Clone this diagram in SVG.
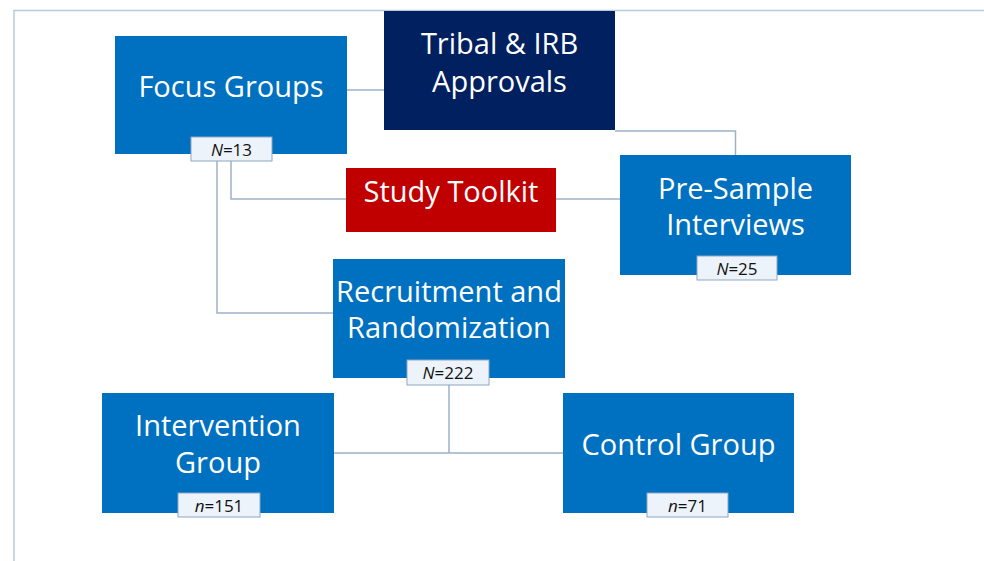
<svg xmlns="http://www.w3.org/2000/svg" width="984" height="561" viewBox="0 0 984 561">
<style>
.box{fill:#0070c0}
.navy{fill:#002060}
.red{fill:#c00000}
.t{font-family:"Open Sans","Liberation Sans",sans-serif;font-size:29px;fill:#ffffff;text-anchor:middle}
.lbl{fill:#edf3fa;stroke:#8fa6c2;stroke-width:1}
.lt{font-family:"Open Sans","Liberation Sans",sans-serif;font-size:17px;fill:#111111;text-anchor:middle}
.c{fill:none;stroke:#9db2ca;stroke-width:1.5}
.frame{fill:none;stroke:#b9cadb;stroke-width:1.5}
</style>
<rect width="984" height="561" fill="#ffffff"/>
<path class="frame" d="M14,561 V10.5 H984"/>
<g id="connectors">
<path class="c" d="M347,90 H384"/>
<path class="c" d="M615,131 H735.5 V155"/>
<path class="c" d="M231,161 V199 H346"/>
<path class="c" d="M556,199 H620"/>
<path class="c" d="M217,161 V313 H333"/>
<path class="c" d="M449,385 V453"/>
<path class="c" d="M334,453 H563"/>
</g>
<g id="focus-groups">
<rect class="box" x="115" y="36" width="232" height="118"/>
<text class="t" x="231" y="97">Focus Groups</text>
<rect class="lbl" x="191" y="137" width="81" height="24"/>
<text class="lt" x="231.5" y="155.5"><tspan font-style="italic">N</tspan>=13</text>
</g>
<g id="tribal-irb">
<rect class="navy" x="384" y="11" width="231" height="119"/>
<text class="t" x="499.5" y="54">Tribal &amp; IRB</text>
<text class="t" x="499.5" y="92">Approvals</text>
</g>
<g id="study-toolkit">
<rect class="red" x="346" y="168" width="210" height="64"/>
<text class="t" x="451" y="202">Study Toolkit</text>
</g>
<g id="pre-sample">
<rect class="box" x="620" y="155" width="231" height="120"/>
<text class="t" x="735.5" y="199">Pre-Sample</text>
<text class="t" x="735.5" y="235">Interviews</text>
<rect class="lbl" x="697" y="256" width="80" height="24"/>
<text class="lt" x="737" y="274.5"><tspan font-style="italic">N</tspan>=25</text>
</g>
<g id="recruitment">
<rect class="box" x="333" y="259" width="232" height="119"/>
<text class="t" x="449" y="302">Recruitment and</text>
<text class="t" x="449" y="338">Randomization</text>
<rect class="lbl" x="407" y="360" width="82" height="25"/>
<text class="lt" x="448" y="378.5"><tspan font-style="italic">N</tspan>=222</text>
</g>
<g id="intervention">
<rect class="box" x="102" y="393" width="232" height="120"/>
<text class="t" x="218" y="436">Intervention</text>
<text class="t" x="218" y="473">Group</text>
<rect class="lbl" x="178" y="493" width="82" height="24"/>
<text class="lt" x="219" y="511.5"><tspan font-style="italic">n</tspan>=151</text>
</g>
<g id="control">
<rect class="box" x="563" y="393" width="231" height="120"/>
<text class="t" x="678.5" y="455">Control Group</text>
<rect class="lbl" x="647" y="493" width="81" height="24"/>
<text class="lt" x="687.5" y="511.5"><tspan font-style="italic">n</tspan>=71</text>
</g>
</svg>
